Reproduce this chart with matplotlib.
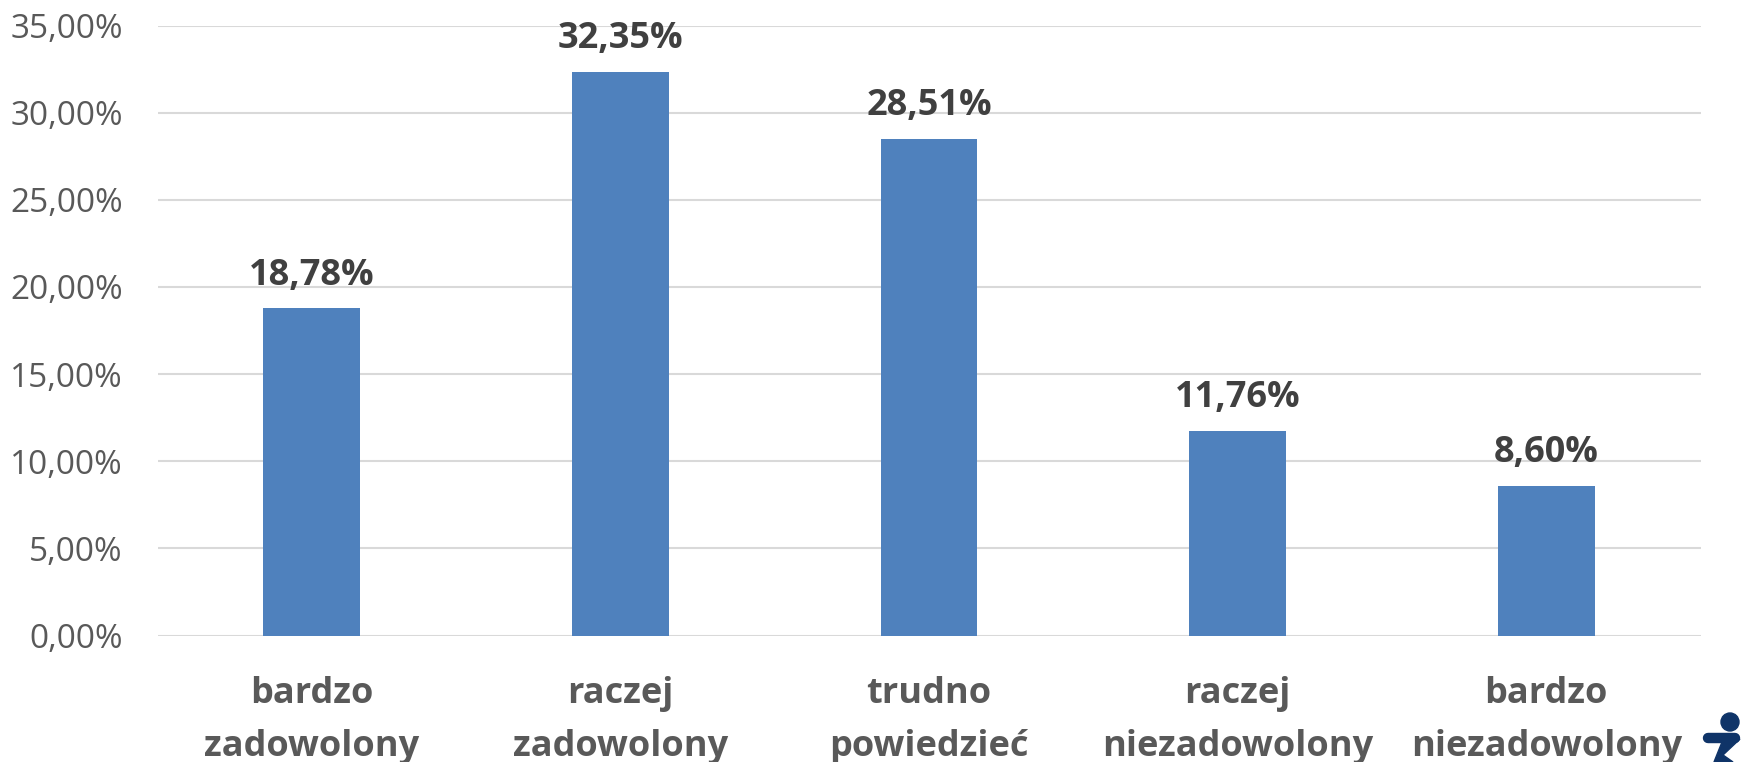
import matplotlib
matplotlib.use('Agg')
import matplotlib.pyplot as plt
from matplotlib.patches import Circle, Polygon

plt.rcParams['font.family'] = ['Open Sans', 'DejaVu Sans']

kategorie = ['bardzo\nzadowolony', 'raczej\nzadowolony', 'trudno\npowiedzieć', 'raczej\nniezadowolony', 'bardzo\nniezadowolony']
wartosci = [18.78, 32.35, 28.51, 11.76, 8.60]
etykiety = ['18,78%', '32,35%', '28,51%', '11,76%', '8,60%']
ticki = [0, 5, 10, 15, 20, 25, 30, 35]
ticki_opisy = ['0,00%', '5,00%', '10,00%', '15,00%', '20,00%', '25,00%', '30,00%', '35,00%']

fig = plt.figure(figsize=(17.44, 7.62), dpi=100)
ax = fig.add_axes([157.5 / 1744, 1 - 635.5 / 762, (1700.5 - 157.5) / 1744, (635.5 - 25.5) / 762])

ax.bar(range(5), wartosci, width=0.314, color='#4F81BD', zorder=3)
ax.set_xlim(-0.5, 4.5)
ax.set_ylim(0, 35)
ax.set_yticks(ticki)
ax.set_yticklabels(ticki_opisy, fontsize=24, color='#595959')
ax.set_xticks(range(5))
ax.set_xticklabels(kategorie, fontsize=26, fontweight='bold', color='#595959', linespacing=1.6)
ax.tick_params(axis='both', length=0)
ax.tick_params(axis='x', pad=29.5)
ax.tick_params(axis='y', pad=25)
ax.grid(axis='y', color='#D9D9D9', linewidth=1.5, zorder=0)
ax.set_axisbelow(True)
for s in ax.spines.values():
    s.set_visible(False)

for i, w in enumerate(wartosci):
    ax.annotate(etykiety[i], (i, w), xytext=(0, 10.5), textcoords='offset points',
                ha='center', va='bottom', fontsize=26, fontweight='bold', color='#404040')

# logo w rogu
granat = '#0F3468'
logo = fig.add_axes([1700 / 1744, 0, 44 / 1744, 50 / 762])
logo.set_xlim(0, 44)
logo.set_ylim(50, 0)
logo.axis('off')
logo.add_patch(Circle((30, 10), 9, color=granat, clip_on=False))
logo.plot([8, 35], [26, 26], color=granat, linewidth=7.5, solid_capstyle='round', clip_on=False)
logo.add_patch(Polygon([(22, 30), (14, 50), (33, 50), (23, 43), (40, 27)], color=granat, clip_on=False))

fig.savefig('out.png', dpi=100)
